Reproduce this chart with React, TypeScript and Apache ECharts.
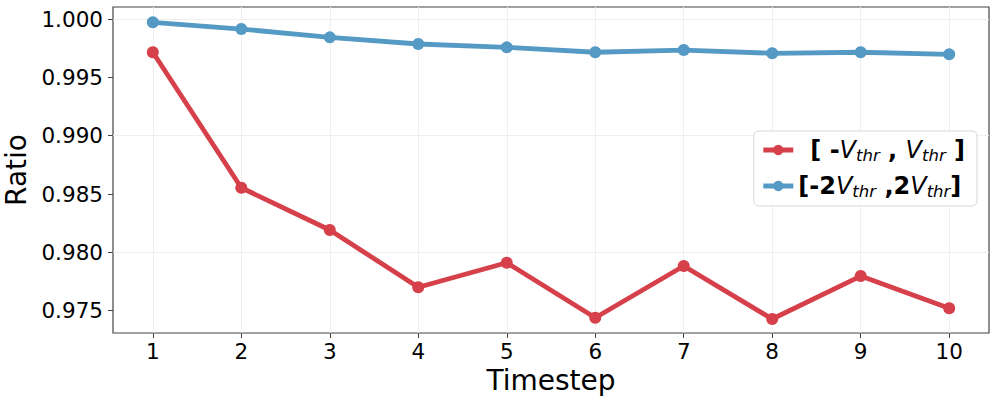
import React, { useEffect, useRef } from "react";
import * as echarts from "echarts";

const timesteps = [1, 2, 3, 4, 5, 6, 7, 8, 9, 10];
const narrowRatio = [0.99715, 0.98554, 0.98192, 0.97701, 0.97911, 0.9744, 0.97883, 0.97429, 0.97797, 0.97521];
const wideRatio = [0.99972, 0.99914, 0.99843, 0.99786, 0.99757, 0.99715, 0.99734, 0.99706, 0.99715, 0.99697];
const yTickValues = [0.975, 0.98, 0.985, 0.99, 0.995, 1.0];
const xTickValues = timesteps;
const seriesNames = ["narrow", "wide"];

const RED = "#d6404a";
const BLUE = "#559ac5";
const FONT = "DejaVu Sans";

export default function App() {
  const ref = useRef<HTMLDivElement>(null);
  useEffect(() => {
    if (!ref.current) return;
    const chart = echarts.init(ref.current, null, { renderer: "svg" });
    const legendText: Record<string, string> = {
      narrow: "{b0|[ -}{i|V}{s|thr}{b| , }{i|V}{s|thr}{b| ]}",
      wide: "{b|[-2}{i|V}{s|thr}{b| ,2}{i|V}{s|thr}{b|]}",
    };
    const main = { fontFamily: FONT, fontSize: 24, fontWeight: "bold", fontStyle: "normal", color: "#000", lineHeight: 28, verticalAlign: "middle" };
    chart.setOption({
      animation: false,
      backgroundColor: "#fff",
      grid: {
        left: 113,
        right: 7,
        top: 7,
        bottom: 70,
        show: true,
        borderColor: "#444",
        borderWidth: 1.2,
        backgroundColor: "transparent",
        outerBoundsMode: "none",
        containLabel: false,
      },
      xAxis: {
        type: "value",
        min: 0.55,
        max: 10.45,
        name: "Timestep",
        nameLocation: "middle",
        nameGap: 30,
        nameTextStyle: { fontFamily: FONT, fontSize: 28, color: "#000" },
        axisLine: { show: false },
        axisTick: { show: true, length: 5, customValues: xTickValues, lineStyle: { color: "#444", width: 1 } },
        axisLabel: { customValues: xTickValues, margin: 7, fontFamily: FONT, fontSize: 21.5, color: "#000" },
        splitLine: { show: false },
      },
      yAxis: {
        type: "value",
        min: 0.97309,
        max: 1.00103,
        name: "Ratio",
        nameLocation: "middle",
        nameGap: 80,
        nameTextStyle: { fontFamily: FONT, fontSize: 28, color: "#000" },
        axisLine: { show: false },
        axisTick: { show: true, length: 5, customValues: yTickValues, lineStyle: { color: "#444", width: 1 } },
        axisLabel: {
          customValues: yTickValues,
          margin: 10,
          fontFamily: FONT,
          fontSize: 21.5,
          color: "#000",
          formatter: (v: number) => v.toFixed(3),
        },
        splitLine: { show: false },
      },
      legend: {
        orient: "vertical",
        right: 19,
        top: 131,
        data: seriesNames,
        backgroundColor: "#fff",
        borderColor: "#d8d8d8",
        borderWidth: 1,
        borderRadius: 5,
        padding: [5, 12, 6, 7],
        itemGap: 8,
        itemWidth: 30,
        itemHeight: 13,
        lineStyle: { width: 5 },
        formatter: (name: string) => legendText[name],
        textStyle: {
          ...main,
          rich: {
            b: { ...main },
            b0: { ...main, padding: [0, 0, 0, 12] },
            i: { ...main, fontWeight: "normal", fontStyle: "italic" },
            s: { fontFamily: FONT, fontSize: 16.5, fontWeight: "normal", fontStyle: "italic", color: "#000", lineHeight: 14, verticalAlign: "bottom" },
          },
        },
      },
      series: [
        {
          name: "narrow",
          type: "line",
          data: timesteps.map((t, i) => [t, narrowRatio[i]]),
          symbol: "circle",
          symbolSize: 12,
          lineStyle: { color: RED, width: 4.8 },
          itemStyle: { color: RED },
          z: 3,
          markLine: {
            silent: true,
            symbol: "none",
            label: { show: false },
            lineStyle: { color: "#efefef", width: 1, type: "solid" },
            data: [
              ...yTickValues.map((v) => ({ yAxis: v })),
              ...xTickValues.map((v) => ({ xAxis: v })),
            ],
            z: 1,
          },
        },
        {
          name: "wide",
          type: "line",
          data: timesteps.map((t, i) => [t, wideRatio[i]]),
          symbol: "circle",
          symbolSize: 12,
          lineStyle: { color: BLUE, width: 4.8 },
          itemStyle: { color: BLUE },
          z: 3,
        },
      ],
    });
    return () => chart.dispose();
  }, []);
  return <div ref={ref} style={{ position: "fixed", left: 0, top: 0, width: 996, height: 403 }} />;
}
